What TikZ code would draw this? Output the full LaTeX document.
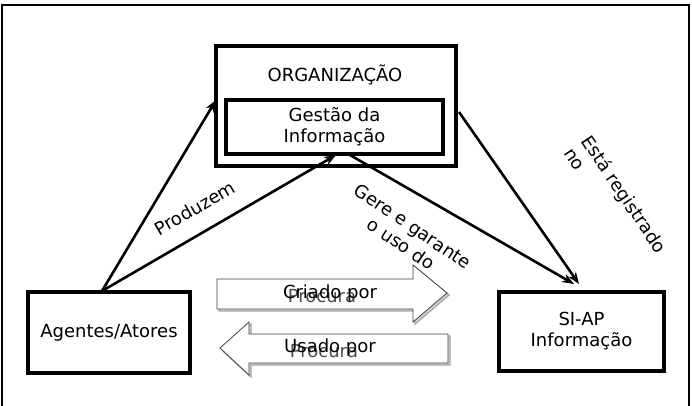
\documentclass[tikz,border=0pt]{standalone}
\usepackage{fontspec}
\setmainfont{DejaVu Sans}
\usetikzlibrary{arrows.meta}
\begin{document}
\begin{tikzpicture}[x=1pt,y=-1pt,
  every node/.style={font=\fontsize{18}{21}\selectfont, inner sep=0pt},
  boxnode/.style={draw=black, line width=3.2pt, fill=white},
  conn/.style={line width=2.6pt, -{Stealth[length=12pt,width=9pt]}},
  blockarrow/.style={draw=black!75, line width=0.8pt, fill=white},
  blockshadow/.style={draw=black!35, line width=1.4pt, fill=black!15},
  lbl/.style={align=center}
]
\useasboundingbox (0,0) rectangle (692,405);
\draw[line width=2.8pt] (2,5) rectangle (689,408);

% boxes
\node[boxnode, minimum width=240pt, minimum height=120pt] (org) at (336,106) {};
\node (orgt) at (335,75) {ORGANIZAÇÃO};
\node[boxnode, minimum width=217pt, minimum height=54pt, align=center] (gi) at (334.5,127) {Gestão da\\Informação};
\node[boxnode, minimum width=162pt, minimum height=81pt] (ag) at (109,332.5) {Agentes/Atores};
\node[boxnode, minimum width=165pt, minimum height=79pt, align=center] (si) at (581.5,331.5) {SI-AP\\Informação};

% connector end points
\coordinate (agtop) at (102,291);
\coordinate (orgl) at (216,100);
\coordinate (gib) at (336,155);
\coordinate (gis) at (350,155);
\coordinate (orgr) at (459,112);
\coordinate (sia) at (574,284);
\coordinate (sib) at (579,284);

\draw[conn] (agtop) -- (orgl);
\draw[conn] (agtop) -- (gib);
\draw[conn] (gis) -- (sia);
\draw[conn] (orgr) -- (sib);

% block arrows
\draw[blockshadow] (219,281) -- (415,281) -- (415,267) -- (449,295) -- (415,324) -- (415,311) -- (219,311) -- cycle;
\draw[blockarrow] (217,279) -- (413,279) -- (413,265) -- (447,293) -- (413,322) -- (413,309) -- (217,309) -- cycle;
\draw[blockshadow] (222,350) -- (251,324) -- (251,336) -- (450,336) -- (450,365) -- (251,365) -- (251,377) -- cycle;
\draw[blockarrow] (220,348) -- (249,322) -- (249,334) -- (448,334) -- (448,363) -- (249,363) -- (249,375) -- cycle;

\node[text=black!70] (pr1) at (322,296) {Procura};
\node (cp) at (330,294) {Criado por};
\node[text=black!70] (pr2) at (324,351) {Procura};
\node (up) at (330,348) {Usado por};

% labels
\node[rotate=30] (prod) at (195,208) {Produzem};
\node[lbl, rotate=-34] (gere) at (407,235) {Gere e garante\\o uso do};
\node[align=left, rotate=-56] (esta) at (616,200) {Está registrado\\no};
\end{tikzpicture}
\end{document}
